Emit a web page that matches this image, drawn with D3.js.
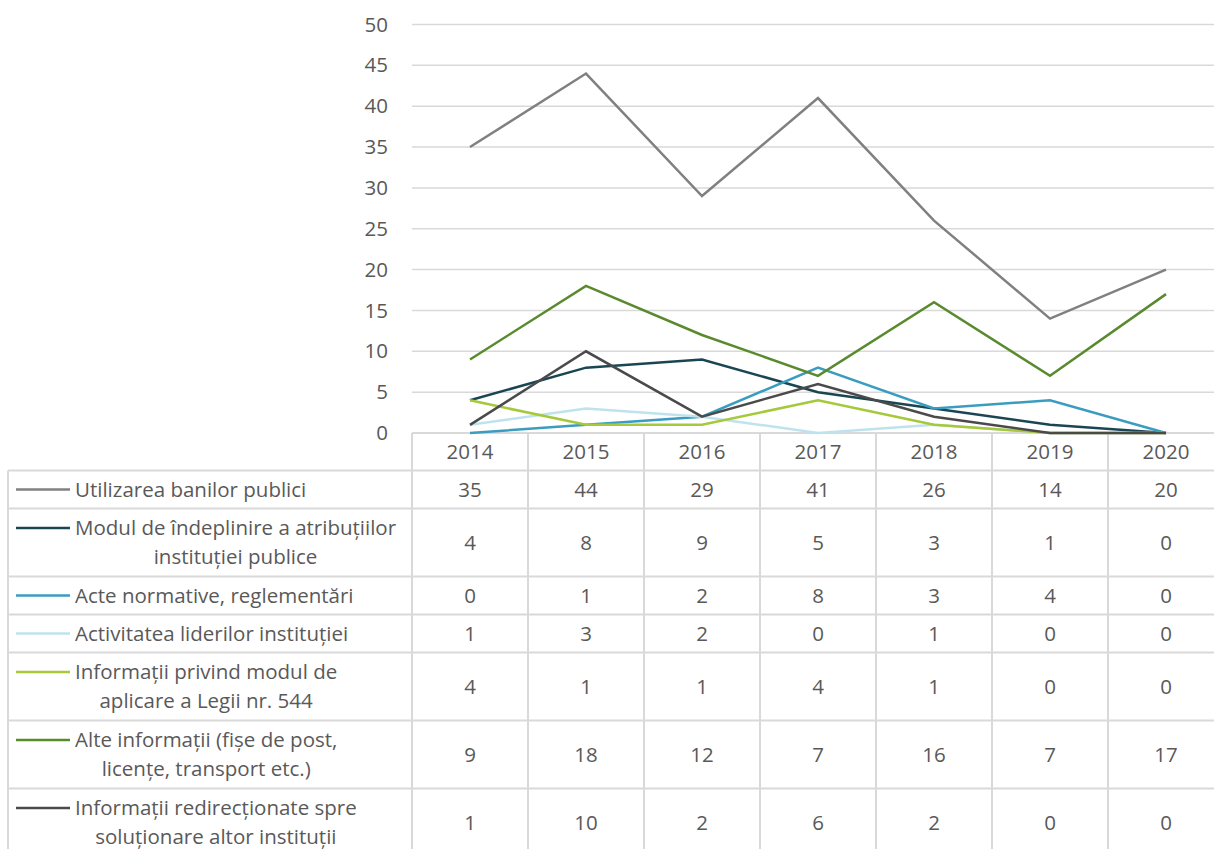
<!DOCTYPE html>
<html>
<head>
<meta charset="utf-8">
<script src="https://cdn.jsdelivr.net/npm/d3@7"></script>
<style>
  body { margin: 0; background: #fff; }
  text { font-family: "Open Sans", sans-serif; fill: #595959; }
</style>
</head>
<body>
<div id="chart"></div>
<script>
var years = ["2014", "2015", "2016", "2017", "2018", "2019", "2020"];
var seriesNames = [
  ["Utilizarea banilor publici"],
  ["Modul de îndeplinire a atribuțiilor", "instituției publice"],
  ["Acte normative, reglementări"],
  ["Activitatea liderilor instituției"],
  ["Informații privind modul de", "aplicare a Legii nr. 544"],
  ["Alte informații (fișe de post,", "licențe, transport etc.)"],
  ["Informații redirecționate spre", "soluționare altor instituții"]
];
var utilizarea = [35, 44, 29, 41, 26, 14, 20];
var modul = [4, 8, 9, 5, 3, 1, 0];
var acte = [0, 1, 2, 8, 3, 4, 0];
var activitatea = [1, 3, 2, 0, 1, 0, 0];
var legea544 = [4, 1, 1, 4, 1, 0, 0];
var alte = [9, 18, 12, 7, 16, 7, 17];
var redirectionate = [1, 10, 2, 6, 2, 0, 0];
var yTicks = [0, 5, 10, 15, 20, 25, 30, 35, 40, 45, 50];

var seriesValues = [utilizarea, modul, acte, activitatea, legea544, alte, redirectionate];
var colors = ["#808080", "#1a4653", "#3a9dbf", "#bfe3ee", "#a5c93a", "#5a8a2e", "#4a4a4a"];

var width = 1214, height = 849;
var plotLeft = 412, colW = 116, plotTop = 24.5, plotBottom = 433;
var tableLeft = 8;
var gridColor = "#d9d9d9";
var fontSize = 20.5;

var svg = d3.select("#chart").append("svg")
  .attr("width", width)
  .attr("height", height);

var x = d3.scaleBand()
  .domain(years)
  .range([plotLeft, plotLeft + colW * years.length]);

var y = d3.scaleLinear()
  .domain([0, 50])
  .range([plotBottom, plotTop]);

/* gridlines */
svg.append("g")
  .selectAll("line")
  .data(yTicks.filter(d => d > 0))
  .enter().append("line")
  .attr("x1", plotLeft)
  .attr("x2", plotLeft + colW * years.length)
  .attr("y1", d => y(d))
  .attr("y2", d => y(d))
  .attr("stroke", gridColor)
  .attr("stroke-width", 1.5);

/* y axis labels */
var yAxis = d3.axisLeft(y).tickValues(yTicks).tickSize(0).tickPadding(24);
svg.append("g")
  .attr("transform", "translate(" + plotLeft + ",0)")
  .call(yAxis)
  .call(g => g.select(".domain").remove())
  .selectAll("text")
  .style("font-family", "'Open Sans', sans-serif")
  .style("font-size", fontSize + "px")
  .attr("fill", "#595959");

/* table rows */
var headerH = 37.5;
var lineH = 29;
var rows = [];
var yy = plotBottom + headerH;
seriesNames.forEach(function(n, i) {
  var h = n.length === 1 ? 38 : 68;
  rows.push({ top: yy, h: h, name: n, values: seriesValues[i], color: colors[i] });
  yy += h;
});
var tableBottom = yy;
var tableRight = plotLeft + colW * years.length;

var tbl = svg.append("g");

/* horizontal table lines */
tbl.append("line")
  .attr("x1", plotLeft).attr("x2", tableRight)
  .attr("y1", plotBottom).attr("y2", plotBottom)
  .attr("stroke", gridColor).attr("stroke-width", 2);

tbl.selectAll(".hline")
  .data(rows)
  .enter().append("line")
  .attr("x1", tableLeft).attr("x2", tableRight)
  .attr("y1", d => d.top).attr("y2", d => d.top)
  .attr("stroke", gridColor).attr("stroke-width", 2);

/* vertical table lines */
tbl.selectAll(".vline")
  .data(years)
  .enter().append("line")
  .attr("x1", d => x(d)).attr("x2", d => x(d))
  .attr("y1", plotBottom).attr("y2", tableBottom)
  .attr("stroke", gridColor).attr("stroke-width", 2);

tbl.append("line")
  .attr("x1", tableLeft).attr("x2", tableLeft)
  .attr("y1", rows[0].top).attr("y2", tableBottom)
  .attr("stroke", gridColor).attr("stroke-width", 2);

/* year header */
tbl.selectAll(".year")
  .data(years)
  .enter().append("text")
  .attr("x", d => x(d) + colW / 2)
  .attr("y", plotBottom + headerH / 2)
  .attr("dy", "0.35em")
  .attr("text-anchor", "middle")
  .style("font-size", fontSize + "px")
  .text(d => d);

/* legend cells + values */
rows.forEach(function(r) {
  var cy = r.top + r.h / 2;
  var firstY = r.name.length === 1 ? cy : cy - lineH / 2;
  tbl.append("line")
    .attr("x1", 16).attr("x2", 70)
    .attr("y1", firstY).attr("y2", firstY)
    .attr("stroke", r.color).attr("stroke-width", 2.5);
  var first = tbl.append("text")
    .attr("x", 75)
    .attr("y", firstY)
    .attr("dy", "0.35em")
    .style("font-size", fontSize + "px")
    .text(r.name[0]);
  if (r.name.length > 1) {
    var w = first.node().getComputedTextLength();
    tbl.append("text")
      .attr("x", 75 + w / 2)
      .attr("y", firstY + lineH)
      .attr("dy", "0.35em")
      .attr("text-anchor", "middle")
      .style("font-size", fontSize + "px")
      .text(r.name[1]);
  }
  tbl.selectAll(null)
    .data(r.values)
    .enter().append("text")
    .attr("x", (d, i) => x(years[i]) + colW / 2)
    .attr("y", cy)
    .attr("dy", "0.35em")
    .attr("text-anchor", "middle")
    .style("font-size", fontSize + "px")
    .text(d => d);
});

/* lines */
var line = d3.line()
  .x((d, i) => x(years[i]) + colW / 2)
  .y(d => y(d));

svg.append("g")
  .selectAll("path")
  .data(rows)
  .enter().append("path")
  .attr("d", d => line(d.values))
  .attr("fill", "none")
  .attr("stroke", d => d.color)
  .attr("stroke-width", 2.5)
  .attr("stroke-linejoin", "miter");
</script>
</body>
</html>
